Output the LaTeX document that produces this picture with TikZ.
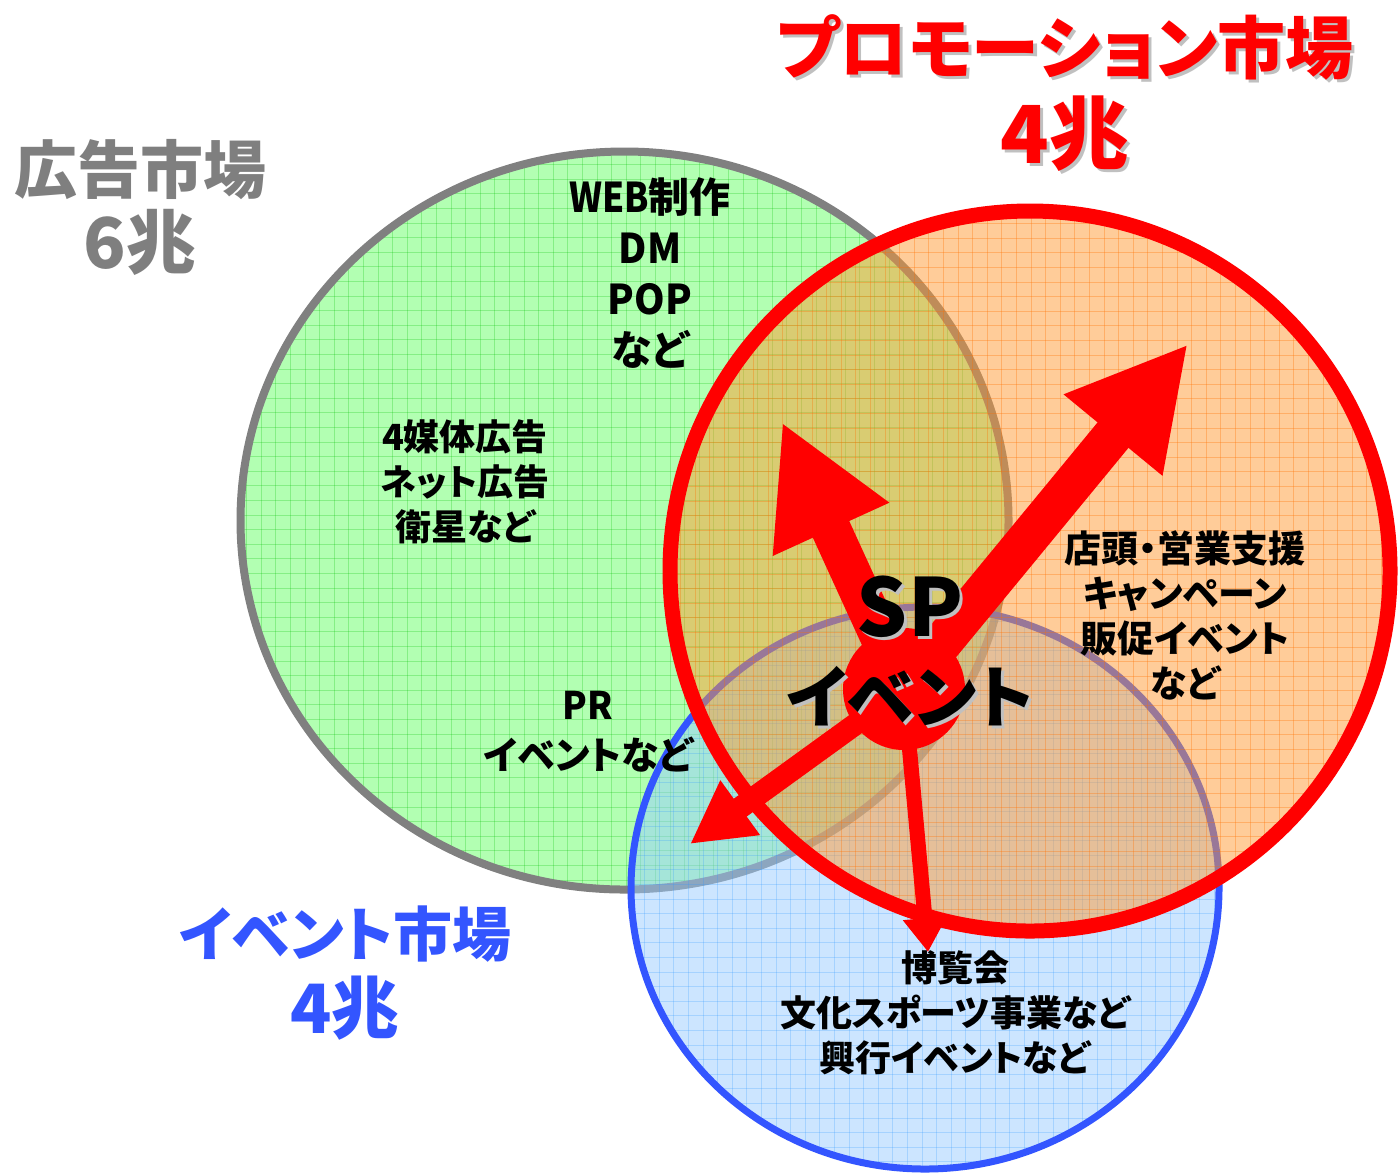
\documentclass[tikz,border=0pt]{standalone}
\usepackage{fontspec}
\usepackage{graphicx}
\newfontfamily\jp{Noto Sans CJK JP}[RawFeature=+palt]
\usetikzlibrary{arrows.meta}
\definecolor{gfill}{HTML}{66FF66}
\definecolor{ggrid}{HTML}{00C000}
\definecolor{gline}{HTML}{808080}
\definecolor{ofill}{HTML}{FF9933}
\definecolor{ogrid}{HTML}{FF7000}
\definecolor{bfill}{HTML}{99CCFF}
\definecolor{bgrid}{HTML}{3399FF}
\definecolor{bline}{HTML}{3355FF}
\definecolor{tgray}{HTML}{7F7F7F}
\definecolor{shad}{HTML}{C0C0C0}
\newcommand\cond[1]{\scalebox{0.86}[1]{#1}}
\newcommand\shadowed[2]{% shadow colour behind text, in one box
  \leavevmode\rlap{\hspace*{1.5pt}\raisebox{-1.5pt}{\textcolor{shad}{#2}}}#2}
\tikzset{
  body/.style={font=\jp\bfseries\fontsize{18}{22.5}\selectfont, align=center, inner sep=0pt, text=black},
  webtxt/.style={font=\jp\bfseries\fontsize{20.5}{25.5}\selectfont, align=center, inner sep=0pt, text=black},
  prtxt/.style={font=\jp\bfseries\fontsize{19}{25}\selectfont, align=center, inner sep=0pt, text=black},
  adttl/.style={font=\jp\bfseries\fontsize{31.5}{37.5}\selectfont, align=center, inner sep=0pt},
  prttl/.style={font=\jp\bfseries\fontsize{34}{45}\selectfont, align=center, inner sep=0pt},
  evttl/.style={font=\jp\bfseries\fontsize{29.5}{38.5}\selectfont, align=center, inner sep=0pt},
  bigsp/.style={font=\jp\bfseries\fontsize{40}{40}\selectfont, inner sep=0pt},
  bigev/.style={font=\jp\bfseries\fontsize{34}{34}\selectfont, inner sep=0pt},
  ggl/.style={ggrid, line width=0.5pt, opacity=0.25},
  bgl/.style={bgrid, line width=0.5pt, opacity=0.25},
  ogl/.style={ogrid, line width=0.5pt, opacity=0.32},
  shaftA/.style={draw=red, line width=20pt, -{Triangle[length=59pt,width=59.5pt]}},
  shaftB/.style={draw=red, line width=11pt, -{Triangle[length=31pt,width=31.5pt]}},
  shaftC/.style={draw=red, line width=7.5pt, -{Triangle[length=17pt,width=21pt]}},
}
\begin{document}
\begin{tikzpicture}[x=0.5pt,y=-0.5pt]
\useasboundingbox (0,0) rectangle (1400,1175);
% green (advertising) circle
\begin{scope}
  \clip (624.5,520.5) ellipse [x radius=384, y radius=369];
  \fill[gfill, fill opacity=0.5] (230,140) rectangle (1020,900);
  \foreach \gx in {0,...,54} \draw[ggl] (232+\gx*14.6,140) -- (232+\gx*14.6,900);
  \foreach \gy in {0,...,52} \draw[ggl] (230,150+\gy*14.6) -- (1020,150+\gy*14.6);
\end{scope}
\draw[gline, line width=4pt] (624.5,520.5) ellipse [x radius=384, y radius=369];
% blue (event) circle
\begin{scope}
  \clip (925,888) ellipse [x radius=294, y radius=281];
  \fill[bfill, fill opacity=0.5] (620,600) rectangle (1230,1175);
  \foreach \gx in {0,...,42} \draw[bgl] (630+\gx*14.6,600) -- (630+\gx*14.6,1175);
  \foreach \gy in {0,...,40} \draw[bgl] (620,607+\gy*14.6) -- (1230,607+\gy*14.6);
\end{scope}
\draw[bline, line width=3.5pt] (925,888) ellipse [x radius=294, y radius=281];
% red (promotion) circle
\begin{scope}
  \clip (1030,571) circle [radius=360];
  \fill[ofill, fill opacity=0.5] (660,200) rectangle (1400,940);
  \foreach \gx in {0,...,51} \draw[ogl] (666+\gx*14.6,200) -- (666+\gx*14.6,940);
  \foreach \gy in {0,...,51} \draw[ogl] (660,209+\gy*14.6) -- (1400,209+\gy*14.6);
\end{scope}
\draw[red, line width=7.5pt] (1030,571) circle [radius=360];
% titles
\node[adttl, text=tgray] (adttl) at (140,207.5) {広告市場\\{\fontsize{35}{35}\selectfont 6兆}};
\node[prttl, text=red] (prttl) at (1065,95) {\shadowed{}{プロモーション市場}\\{\fontsize{40}{40}\selectfont\shadowed{}{4兆}}};
\node[evttl, text=bline] (evttl) at (345,973.5) {イベント市場\\{\fontsize{34}{34}\selectfont 4兆}};
% body texts
\node[webtxt] (web) at (650,273.5) {\cond{WEB}制作\\\scalebox{0.95}[1]{DM}\\\scalebox{0.95}[1]{POP}\\など};
\node[body] (media) at (465,482) {4媒体広告\\ネット広告\\衛星など};
\node[prtxt] (pr) at (588,732) {\scalebox{0.95}[1]{PR}\\イベントなど};
\node[body, font=\jp\bfseries\fontsize{18.5}{22.5}\selectfont] (shop) at (1185,615.5) {店頭・営業支援\\キャンペーン\\販促イベント\\など};
\node[body] (expo) at (955,1012.5) {博覧会\\文化スポーツ事業など\\興行イベントなど};
% hub and arrows
\node[circle, fill=red, minimum size=61pt, inner sep=0pt] (hub) at (904,689) {};
\coordinate (t1) at (782,422);
\coordinate (t2) at (1188,344);
\coordinate (t3) at (690,844);
\coordinate (t4) at (928,952);
\draw[shaftA] (hub.center) -- (t1);
\draw[shaftA] (hub.center) -- (t2);
\draw[shaftB] (hub.center) -- (t3);
\draw[shaftC] (hub.center) -- (t4);
\node[bigsp] (sp) at (910,608) {\shadowed{}{SP}};
\node[bigev] (ev) at (910,698) {\shadowed{}{イベント}};
\end{tikzpicture}
\end{document}
